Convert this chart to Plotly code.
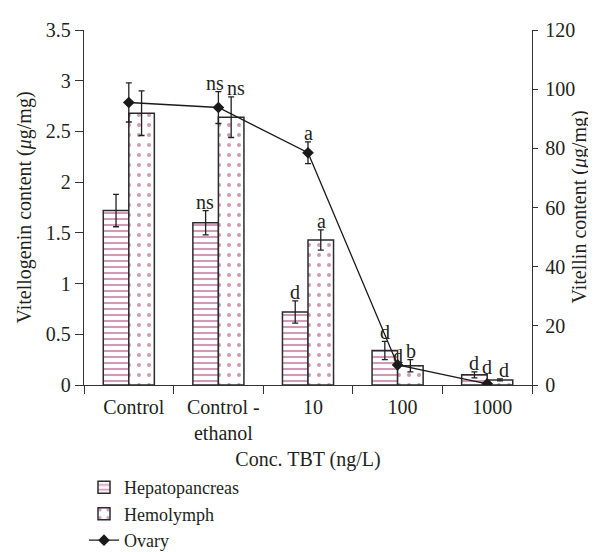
import plotly.graph_objects as go

categories = ["Control", "Control -<br>ethanol", "10", "100", "1000"]
hep_values = [1.72, 1.60, 0.72, 0.34, 0.10]
hep_errors = [0.16, 0.12, 0.11, 0.09, 0.03]
hem_values = [2.68, 2.64, 1.43, 0.19, 0.05]
hem_errors = [0.22, 0.20, 0.10, 0.06, 0.01]
ovary_values = [95.5, 93.8, 78.5, 6.8, 0.4]
ovary_errors = [6.6, 5.4, 3.7, 0.0, 0.0]
hep_labels = ["", "ns", "d", "d", "d"]
hem_labels = ["", "ns", "a", "b", "d"]
ovary_labels = ["", "ns", "a", "d", "d"]

FONT = "Liberation Serif, Times New Roman, serif"
TXT = "#231f20"
PINK = "#a2336e"
FS = 20
f = dict(family=FONT, size=FS, color=TXT)

fig = go.Figure()
fig.add_trace(go.Bar(
    x=categories, y=hep_values, name="Hepatopancreas",
    error_y=dict(type="data", array=hep_errors, color=TXT, thickness=1.3, width=3),
    marker=dict(color="white", line=dict(color="#2b2b2b", width=1.5),
                pattern=dict(shape="-", fgcolor=PINK, bgcolor="white", size=6, solidity=0.35)),
))
fig.add_trace(go.Bar(
    x=categories, y=hem_values, name="Hemolymph",
    error_y=dict(type="data", array=hem_errors, color=TXT, thickness=1.3, width=3),
    marker=dict(color="white", line=dict(color="#2b2b2b", width=1.5),
                pattern=dict(shape=".", fgcolor=PINK, bgcolor="white", size=10, solidity=0.13)),
))
fig.add_trace(go.Scatter(
    x=categories, y=ovary_values, name="Ovary", yaxis="y2", mode="lines+markers",
    line=dict(color="#1a1a1a", width=1.3),
    marker=dict(symbol="diamond", size=9, color="#1a1a1a"),
    error_y=dict(type="data", array=ovary_errors, color=TXT, thickness=1.3, width=3),
))

# label pixel nudges (layout only)
hem_dx = {1: 18, 4: 17}
ovary_dx = {1: -3}
ovary_dy = {4: 8}

ann = []
for i, c in enumerate(categories):
    if hep_labels[i]:
        ann.append(dict(x=i, y=hep_values[i] + hep_errors[i], xref="x", yref="y",
                        text=hep_labels[i], showarrow=False, xshift=-13, yanchor="bottom", yshift=-4))
    if hem_labels[i]:
        ann.append(dict(x=i, y=hem_values[i] + hem_errors[i], xref="x", yref="y",
                        text=hem_labels[i], showarrow=False, xshift=hem_dx.get(i, 13),
                        yanchor="bottom", yshift=-4))
    if ovary_labels[i]:
        ann.append(dict(x=i, y=ovary_values[i] + ovary_errors[i], xref="x", yref="y2",
                        text=ovary_labels[i], showarrow=False, xshift=ovary_dx.get(i, 0),
                        yanchor="bottom", yshift=-4 + ovary_dy.get(i, 0)))
# right-axis title, placed as rotated text
ann.append(dict(x=1.0, y=0.5, xref="paper", yref="paper", xshift=47, xanchor="center",
                yanchor="middle", textangle=-90, showarrow=False,
                text="Vitellin content (<i>μ</i>g/mg)"))
for a in ann:
    a["font"] = dict(family=FONT, size=FS, color=TXT)

axis_common = dict(showline=True, linecolor="#333", linewidth=1.3, ticks="outside",
                   tickcolor="#333", showgrid=False, zeroline=False, automargin=False,
                   tickfont=f)

fig.update_layout(
    width=596, height=552,
    margin=dict(l=76, r=72, t=22, b=175, autoexpand=False),
    paper_bgcolor="white", plot_bgcolor="white",
    font=f,
    barmode="group", bargap=0.43, bargroupgap=0,
    showlegend=True,
    legend=dict(x=0.0, xanchor="left", y=-0.237, yanchor="top", orientation="v",
                font=dict(family=FONT, size=18, color=TXT), tracegroupgap=0,
                bgcolor="rgba(0,0,0,0)", borderwidth=0),
    annotations=ann,
    xaxis=dict(type="category", range=[-0.5, 4.5], tickson="boundaries", ticklen=8,
               ticklabelshift=5, ticklabelstandoff=4,
               title=dict(text="Conc. TBT (ng/L)", standoff=8, font=f), **axis_common),
    yaxis=dict(range=[0, 3.5], dtick=0.5, ticklen=8,
               title=dict(text="Vitellogenin content (<i>μ</i>g/mg)", standoff=8, font=f),
               **axis_common),
    yaxis2=dict(range=[0, 120], dtick=20, overlaying="y", side="right", ticklen=5,
                ticklabelstandoff=3, **axis_common),
)

fig.write_html("out.html")
